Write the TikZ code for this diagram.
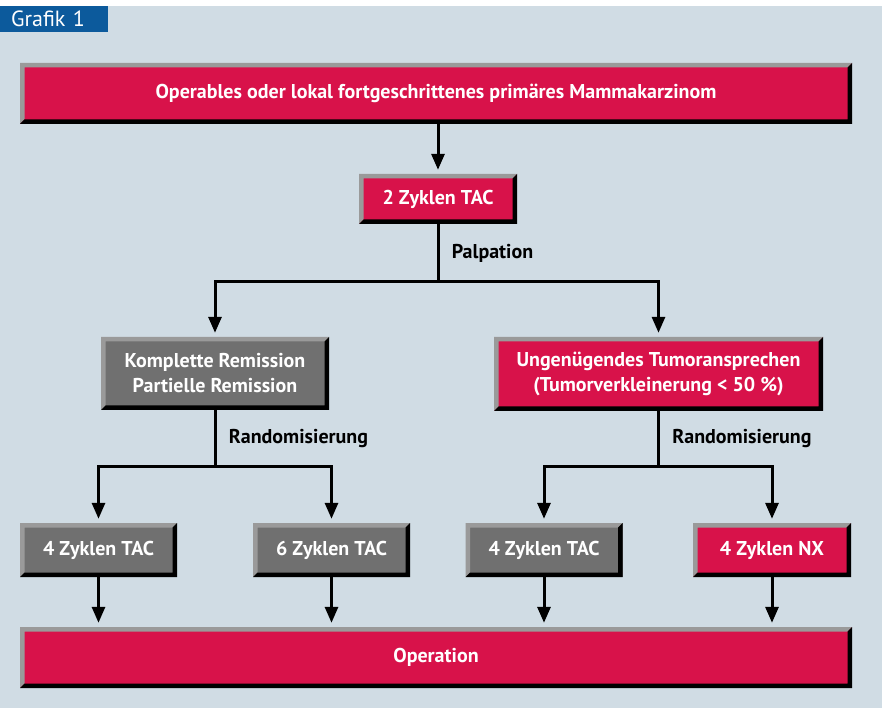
\documentclass[tikz,border=0pt]{standalone}
\usepackage{fontspec}
\setmainfont{PT Sans}
\usetikzlibrary{arrows.meta,positioning,calc}
\definecolor{crimson}{HTML}{D8124A}
\definecolor{boxgray}{HTML}{707070}
\definecolor{edgelt}{HTML}{9A9A9A}
\definecolor{bgblue}{HTML}{D0DCE4}
\definecolor{tagblue}{HTML}{0C5A9C}
\newcommand{\bfont}{\fontsize{20}{25}\selectfont\bfseries}
\tikzset{
  blk/.style={rectangle,inner sep=0pt,align=center,text=white,font=\bfont,
    path picture={
      \fill[edgelt] (path picture bounding box.north west) -- (path picture bounding box.north east)
        -- ($(path picture bounding box.north east)+(-4.5pt,-4.5pt)$)
        -- ($(path picture bounding box.north west)+(4.5pt,-4.5pt)$)
        -- ($(path picture bounding box.south west)+(4.5pt,4.5pt)$)
        -- (path picture bounding box.south west) -- cycle;
      \fill[black] (path picture bounding box.south east) -- (path picture bounding box.north east)
        -- ($(path picture bounding box.north east)+(-4.5pt,-4.5pt)$)
        -- ($(path picture bounding box.south east)+(-4.5pt,4.5pt)$)
        -- ($(path picture bounding box.south west)+(4.5pt,4.5pt)$)
        -- (path picture bounding box.south west) -- cycle;
    }},
  redblk/.style={blk,fill=crimson},
  grayblk/.style={blk,fill=boxgray},
  arr/.style={-{Triangle[length=16pt,width=13pt]},line width=3pt,shorten >=4pt},
  conn/.style={line width=3pt},
  lbl/.style={font=\bfont,text=black,right=9pt}
}

\begin{document}
\begin{tikzpicture}[x=1pt,y=-1pt]
  \useasboundingbox (0,0) rectangle (889,708);
  % Background and tag
  \fill[white] (0,0) rectangle (889,708);
  \fill[bgblue] (0,6) rectangle (882,708);
  \node[fill=tagblue,text=white,anchor=north west,inner xsep=11pt,inner ysep=0pt,text width=86pt,
        minimum height=26pt,font=\fontsize{22}{22}\selectfont] (tag) at (0,6) {Grafik 1};

  % Diagnosis and induction
  \node[redblk,minimum width=832pt,minimum height=61pt] (diag) at (436,93.5) {Operables oder lokal fortgeschrittenes primäres Mammakarzinom};
  \node[redblk,minimum width=158pt,minimum height=50pt] (tac2) at (438,199) {2 Zyklen TAC};
  \coordinate (palp) at (438,282);

  % Response
  \node[grayblk,minimum width=228pt,minimum height=73pt] (cr) at (215,373.5) {Komplette Remission\\Partielle Remission};
  \node[redblk,minimum width=329pt,minimum height=74pt] (nc) at (658.5,374) {Ungenügendes Tumoransprechen\\(Tumorverkleinerung < 50~\%)};
  \coordinate (randl) at (215,466);
  \coordinate (randr) at (658.5,466);

  % Randomised arms
  \node[grayblk,minimum width=157pt,minimum height=54pt] (tacA) at (98.5,550) {4 Zyklen TAC};
  \node[grayblk,minimum width=157pt,minimum height=54pt] (tacB) at (331.5,550) {6 Zyklen TAC};
  \node[grayblk,minimum width=157pt,minimum height=54pt] (tacC) at (544,550) {4 Zyklen TAC};
  \node[redblk,minimum width=158pt,minimum height=54pt] (nx) at (772,550) {4 Zyklen NX};

  % Surgery
  \node[redblk,minimum width=832pt,minimum height=61pt] (op) at (436,657.5) {Operation};

  % Connections
  \draw[arr] (diag.south -| tac2.north) -- (tac2.north);
  \draw[conn] (tac2.south) -- node[lbl] {Palpation} (palp);
  \draw[arr] (palp) -| (cr.north);
  \draw[arr] (palp) -| (nc.north);
  \draw[conn] (cr.south) -- node[lbl] {Randomisierung} (randl);
  \draw[arr] (randl) -| (tacA.north);
  \draw[arr] (randl) -| (tacB.north);
  \draw[conn] (nc.south) -- node[lbl] {Randomisierung} (randr);
  \draw[arr] (randr) -| (tacC.north);
  \draw[arr] (randr) -| (nx.north);
  \foreach \s in {tacA,tacB,tacC,nx}
    \draw[arr] (\s.south) -- (\s.south |- op.north);
\end{tikzpicture}
\end{document}
